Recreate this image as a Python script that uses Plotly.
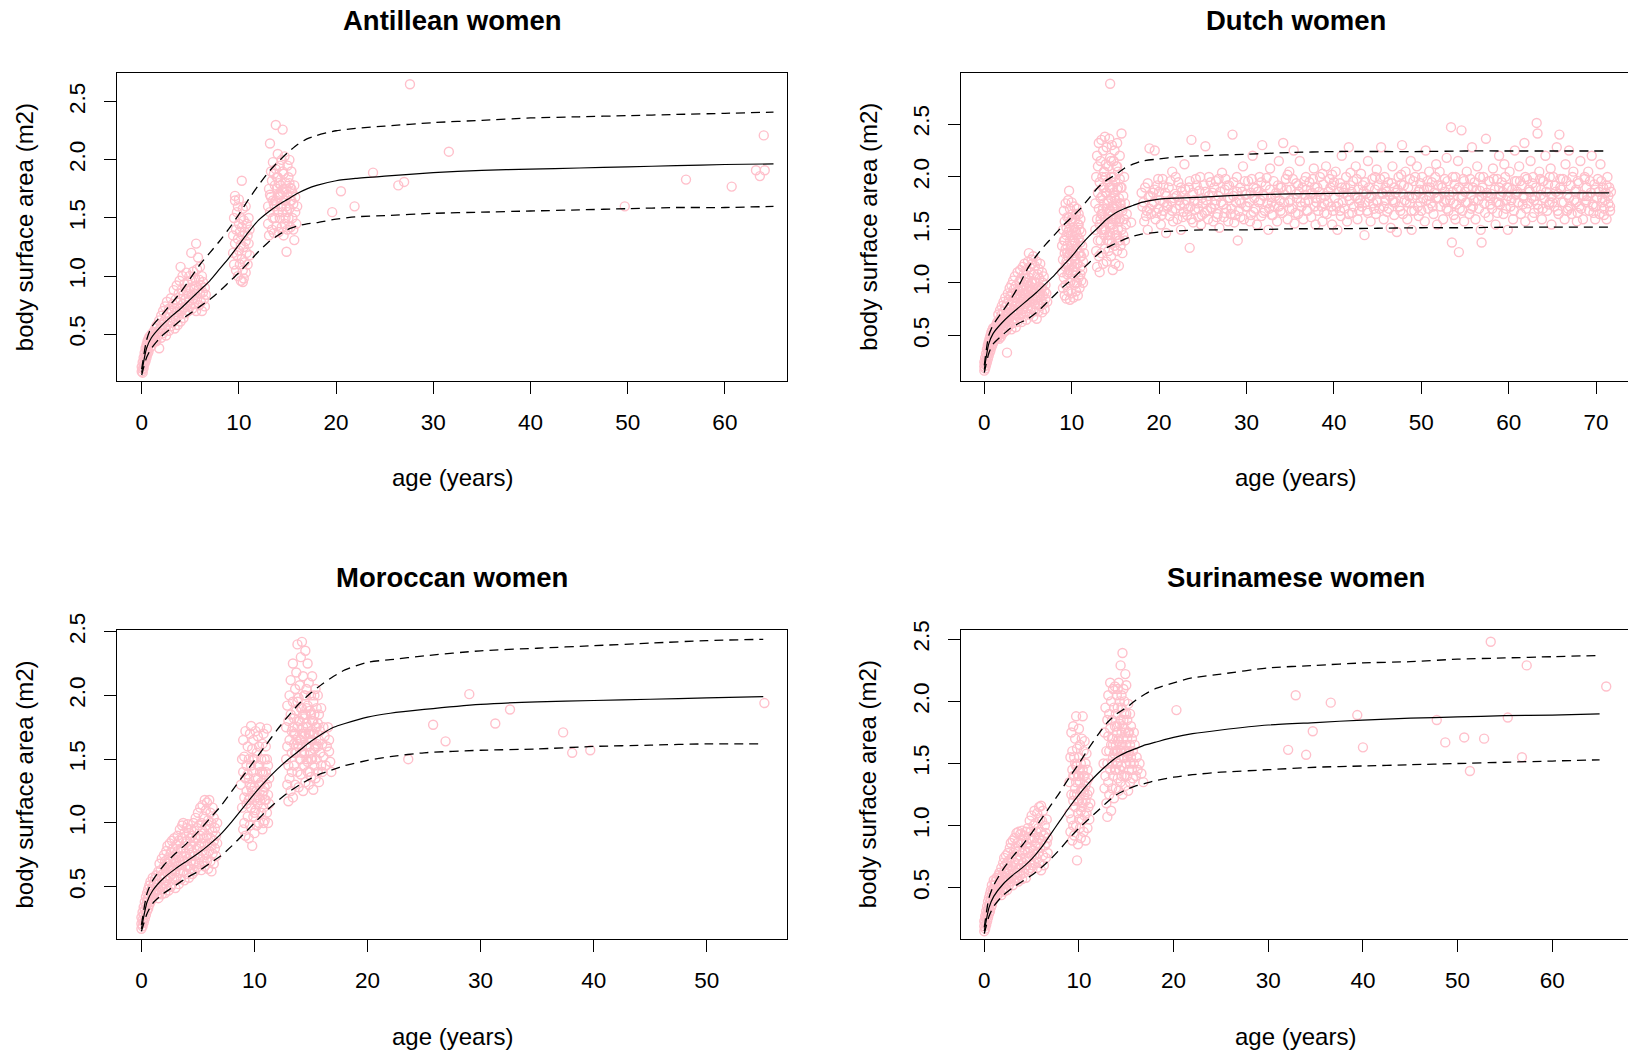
import plotly.graph_objects as go

W, H = 1628, 1051

# ---------------- reference curves (age in years, body surface area in m2) ----------------
ages_A = [0, 0.5, 1, 2, 3, 4, 5, 6, 7, 8, 9, 10, 11, 12, 13, 14, 15, 16, 17, 18, 20, 22, 25, 30, 35, 40, 45, 50, 55, 60, 65]
med_A = [0.17, 0.38, 0.47, 0.57, 0.65, 0.72, 0.80, 0.88, 0.96, 1.06, 1.16, 1.27, 1.38, 1.48, 1.55, 1.61, 1.66, 1.71, 1.75, 1.78, 1.82, 1.84, 1.86, 1.89, 1.91, 1.92, 1.93, 1.94, 1.95, 1.96, 1.965]
upp_A = [0.20, 0.45, 0.56, 0.66, 0.76, 0.86, 0.98, 1.10, 1.20, 1.30, 1.41, 1.53, 1.66, 1.78, 1.89, 1.98, 2.06, 2.13, 2.18, 2.21, 2.25, 2.27, 2.29, 2.32, 2.34, 2.36, 2.37, 2.38, 2.39, 2.40, 2.41]
low_A = [0.15, 0.30, 0.38, 0.48, 0.55, 0.62, 0.68, 0.74, 0.80, 0.87, 0.95, 1.03, 1.12, 1.21, 1.29, 1.35, 1.40, 1.43, 1.45, 1.46, 1.49, 1.51, 1.52, 1.54, 1.55, 1.56, 1.57, 1.58, 1.59, 1.59, 1.60]

ages_D = [0, 0.5, 1, 2, 3, 4, 5, 6, 7, 8, 9, 10, 11, 12, 13, 14, 15, 16, 17, 18, 20, 22, 25, 30, 35, 40, 45, 50, 55, 60, 65, 71.5]
med_D = [0.18, 0.42, 0.52, 0.62, 0.70, 0.77, 0.84, 0.91, 0.99, 1.07, 1.16, 1.25, 1.35, 1.44, 1.52, 1.60, 1.66, 1.70, 1.73, 1.76, 1.79, 1.80, 1.81, 1.83, 1.84, 1.845, 1.85, 1.85, 1.85, 1.85, 1.85, 1.85]
upp_D = [0.22, 0.50, 0.60, 0.72, 0.84, 0.98, 1.14, 1.26, 1.36, 1.45, 1.54, 1.62, 1.70, 1.80, 1.90, 1.97, 2.02, 2.08, 2.12, 2.15, 2.17, 2.19, 2.20, 2.215, 2.23, 2.24, 2.24, 2.24, 2.245, 2.245, 2.245, 2.245]
low_D = [0.15, 0.33, 0.42, 0.50, 0.57, 0.62, 0.66, 0.72, 0.80, 0.88, 0.96, 1.03, 1.11, 1.19, 1.27, 1.33, 1.37, 1.41, 1.44, 1.46, 1.48, 1.49, 1.50, 1.50, 1.51, 1.51, 1.515, 1.52, 1.52, 1.525, 1.525, 1.525]

ages_M = [0, 0.5, 1, 2, 3, 4, 5, 6, 7, 8, 9, 10, 11, 12, 13, 14, 15, 16, 17, 18, 20, 22, 25, 30, 35, 40, 45, 50, 55]
med_M = [0.17, 0.38, 0.47, 0.57, 0.64, 0.70, 0.76, 0.83, 0.91, 1.01, 1.12, 1.23, 1.33, 1.42, 1.50, 1.57, 1.64, 1.70, 1.75, 1.78, 1.83, 1.86, 1.89, 1.93, 1.95, 1.96, 1.97, 1.98, 1.99]
upp_M = [0.20, 0.45, 0.55, 0.67, 0.76, 0.84, 0.93, 1.03, 1.13, 1.25, 1.37, 1.49, 1.61, 1.73, 1.84, 1.94, 2.02, 2.09, 2.15, 2.20, 2.26, 2.28, 2.31, 2.35, 2.37, 2.39, 2.41, 2.43, 2.44]
low_M = [0.15, 0.29, 0.37, 0.45, 0.51, 0.57, 0.62, 0.68, 0.74, 0.82, 0.91, 1.00, 1.09, 1.17, 1.24, 1.30, 1.35, 1.39, 1.42, 1.45, 1.49, 1.52, 1.55, 1.57, 1.58, 1.60, 1.61, 1.62, 1.62]

ages_S = [0, 0.5, 1, 2, 3, 4, 5, 6, 7, 8, 9, 10, 11, 12, 13, 14, 15, 16, 17, 18, 20, 22, 25, 30, 35, 40, 45, 50, 55, 60, 65]
med_S = [0.15, 0.34, 0.43, 0.53, 0.60, 0.66, 0.73, 0.82, 0.93, 1.04, 1.15, 1.25, 1.34, 1.42, 1.49, 1.55, 1.59, 1.62, 1.65, 1.67, 1.71, 1.74, 1.77, 1.81, 1.83, 1.85, 1.865, 1.875, 1.885, 1.89, 1.90]
upp_S = [0.18, 0.42, 0.52, 0.65, 0.75, 0.84, 0.94, 1.05, 1.16, 1.27, 1.39, 1.50, 1.62, 1.73, 1.83, 1.90, 1.95, 2.01, 2.06, 2.10, 2.15, 2.19, 2.22, 2.27, 2.29, 2.31, 2.32, 2.34, 2.35, 2.36, 2.37]
low_S = [0.13, 0.27, 0.35, 0.44, 0.50, 0.55, 0.60, 0.66, 0.73, 0.81, 0.90, 0.98, 1.05, 1.12, 1.19, 1.25, 1.29, 1.32, 1.34, 1.36, 1.39, 1.41, 1.43, 1.45, 1.47, 1.48, 1.49, 1.50, 1.51, 1.52, 1.53]

# ---------------- observations: flat pairs (age x10, BSA x100) ----------------
ant_infant = [0,18, 0,22, 1,20, 1,26, 1,17, 2,24, 2,30, 2,21, 3,28, 3,34, 3,25, 4,31, 4,38, 4,27, 5,35, 5,41, 5,30, 6,37, 6,44, 6,33, 7,40, 7,46, 7,35, 8,42, 8,48, 9,39, 9,45, 10,44, 10,50, 10,40, 11,47, 12,43, 12,52, 13,48, 14,45, 14,55, 15,50, 15,57, 15,44]
ant_child = [16,48, 16,58, 17,52, 18,62, 18,38, 19,55, 20,47, 20,66, 21,58, 22,51, 22,70, 23,61, 24,55, 24,74, 25,49, 25,65, 26,58, 26,78, 27,68, 28,53, 28,72, 29,62, 30,57, 30,81, 31,70, 32,60, 32,76, 33,66, 33,88, 34,55, 34,72, 35,80, 35,63, 36,69, 36,92, 37,58, 37,77, 38,85, 38,66, 39,72, 39,96, 40,61, 40,80, 40,108, 41,70, 41,88, 42,76, 42,100, 43,64, 43,84, 44,73, 44,93, 45,80, 45,68, 46,88, 46,103, 47,75, 47,95, 48,70, 48,85, 49,79, 49,100, 50,90, 50,74, 51,120, 51,84, 52,96, 52,72, 53,81, 53,104, 54,89, 54,76, 55,98, 55,85, 56,128, 56,70, 56,92, 57,80, 57,106, 58,88, 58,116, 59,75, 59,97, 60,85, 60,108, 61,78, 61,92, 62,100, 62,70, 63,86, 63,95, 64,80, 65,90, 65,74, 66,84]
ant_ten = [94,120, 94,135, 95,110, 95,150, 96,128, 96,169, 97,105, 97,140, 98,118, 98,155, 99,132, 99,100, 100,145, 100,122, 100,166, 101,110, 101,138, 102,150, 102,96, 102,127, 103,182, 103,115, 103,142, 104,135, 104,105, 104,158, 105,125, 105,98, 105,148, 106,112, 106,138, 107,130, 107,160, 107,103, 108,120, 108,145, 109,135, 109,110, 110,128, 110,150, 111,118, 111,140, 96,165, 99,160, 104,95]
ant_teen = [130,160, 130,145, 131,175, 131,135, 132,214, 132,155, 133,190, 133,168, 134,140, 134,182, 135,150, 135,198, 136,162, 136,137, 137,178, 137,150, 138,230, 138,192, 138,165, 139,143, 139,175, 140,185, 140,155, 140,205, 141,138, 141,168, 142,195, 142,150, 143,178, 143,160, 144,200, 144,142, 145,226, 145,172, 145,155, 146,188, 146,135, 147,165, 147,203, 148,150, 148,180, 149,121, 149,160, 150,195, 150,140, 150,170, 151,185, 151,150, 152,158, 152,200, 153,142, 153,176, 154,165, 154,190, 155,150, 155,172, 156,140, 156,162, 157,178, 157,131, 158,155, 158,168, 159,145, 160,160, 153,165, 136,188, 142,170, 147,145, 132,170,
            135,165, 137,160, 139,185, 141,180, 143,170, 144,160, 146,175, 148,165, 150,155, 152,180, 154,175, 140,170, 145,190, 149,175]
ant_adult = [196,155, 205,173, 219,160, 238,189, 264,178, 270,181, 276,265, 316,207, 497,160, 560,183, 607,177, 632,191, 636,186, 641,191, 640,221]

dut_infant = [0,17, 0,21, 0,25, 1,19, 1,24, 1,29, 2,22, 2,27, 2,33, 3,25, 3,31, 3,37, 4,28, 4,35, 4,41, 5,31, 5,38, 5,44, 6,34, 6,41, 6,47, 7,36, 7,43, 7,50, 8,39, 8,46, 8,53, 9,41, 9,48, 9,55, 10,43, 10,50, 10,57, 11,45, 11,53, 12,47, 12,58, 13,49, 13,56, 14,51, 14,61, 15,48, 15,55, 15,63]
dut_child = [16,50, 16,62, 16,70, 17,47, 17,57, 18,66, 18,53, 18,74, 19,60, 19,49, 20,70, 20,56, 20,78, 21,63, 21,52, 22,73, 22,59, 22,82, 23,66, 23,54, 24,77, 24,62, 24,86, 25,70, 25,55, 26,34, 26,80, 26,64, 27,90, 27,58, 27,72, 28,84, 28,66, 29,75, 29,95, 29,60, 30,88, 30,68, 31,79, 31,56, 31,98, 32,72, 32,90, 33,62, 33,83, 33,102, 34,75, 34,94, 35,66, 35,86, 35,106, 36,78, 36,58, 36,97, 37,70, 37,89, 38,110, 38,81, 38,63, 39,93, 39,74, 40,101, 40,85, 40,67, 41,112, 41,78, 41,95, 42,88, 42,70, 42,104, 43,82, 43,63, 43,96, 44,115, 44,75, 44,90, 45,108, 45,84, 45,68, 46,98, 46,78, 46,118, 47,88, 47,72, 47,104, 48,94, 48,65, 48,112, 49,82, 49,100, 50,120, 50,76, 50,92, 51,128, 51,86, 51,105, 52,70, 52,97, 52,115, 53,82, 53,110, 54,92, 54,122, 54,75, 55,101, 55,86, 55,118, 56,68, 56,95, 56,125, 57,80, 57,108, 58,90, 58,116, 58,73, 59,100, 59,84, 60,120, 60,94, 60,66, 61,108, 61,80, 62,96, 62,113, 62,73, 63,88, 63,104, 64,78, 64,118, 65,95, 65,84, 66,110, 66,72, 67,100, 67,88, 68,80, 68,106, 69,92, 69,75, 70,98, 70,85, 71,90, 72,82,
             30,75, 32,82, 34,70, 36,86, 38,74, 40,92, 42,80, 44,85, 46,90, 48,80, 50,100, 52,88, 54,100, 56,85, 58,100, 60,86, 62,92, 64,90, 66,95, 28,70, 26,70, 24,68, 22,64, 20,62]
dut_ten = [89,110, 89,135, 90,95, 90,150, 90,122, 91,168, 91,105, 91,140, 92,88, 92,128, 92,158, 93,115, 93,175, 93,98, 94,145, 94,120, 94,85, 95,162, 95,108, 95,135, 96,178, 96,92, 96,125, 97,187, 97,150, 97,112, 98,84, 98,140, 98,170, 99,102, 99,130, 99,158, 100,118, 100,176, 100,90, 101,145, 101,108, 101,165, 102,128, 102,86, 102,152, 103,115, 103,172, 103,98, 104,138, 104,160, 104,122, 105,92, 105,148, 105,110, 106,170, 106,132, 106,100, 107,155, 107,118, 107,88, 108,142, 108,165, 108,105, 109,128, 109,150, 109,95, 110,115, 110,138, 110,160, 111,102, 111,125, 111,148, 112,112, 112,135, 113,120, 113,100, 114,128, 97,162, 99,145, 101,125, 103,140, 105,165, 95,118, 93,132,
           92,140, 94,152, 96,110, 98,128, 100,135, 100,160, 102,112, 102,140, 104,100, 104,150, 106,118, 106,145, 108,128, 108,155, 110,108, 110,125, 96,148, 98,100, 95,128, 103,125]
dut_teen = [127,150, 127,175, 128,130, 128,200, 129,160, 129,220, 129,115, 130,185, 130,140, 130,210, 131,125, 131,170, 131,232, 132,155, 132,195, 132,110, 133,180, 133,140, 133,215, 134,165, 134,235, 134,128, 135,200, 135,150, 135,182, 136,118, 136,225, 136,170, 137,145, 137,205, 137,190, 138,160, 138,238, 138,132, 139,185, 139,212, 139,150, 140,170, 140,120, 140,228, 141,195, 141,140, 141,160, 142,210, 142,178, 142,130, 143,236, 143,155, 143,190, 144,288, 144,168, 144,145, 144,218, 145,200, 145,125, 145,180, 146,160, 146,230, 146,138, 147,112, 147,190, 147,172, 148,150, 148,215, 148,200, 149,135, 149,180, 149,225, 150,160, 150,195, 150,118, 151,145, 151,210, 151,175, 152,130, 152,188, 152,232, 153,165, 153,150, 153,205, 154,116, 154,180, 154,140, 155,198, 155,160, 155,220, 156,135, 156,175, 157,241, 157,150, 157,190, 158,168, 158,128, 159,182, 159,145, 160,160, 160,200, 161,140, 161,175, 162,155, 163,165, 168,157, 137,175, 142,165, 147,155, 152,172, 133,160,
            135,165, 136,190, 138,150, 139,200, 140,185, 141,175, 142,145, 143,168, 144,190, 145,155, 146,200, 147,165, 148,185, 149,170, 150,178, 151,160, 152,145, 153,190, 154,158, 155,175, 156,190, 157,170, 134,150, 137,205, 143,140, 145,215, 148,160, 150,145, 152,210, 155,140]
dut_adult = [181,172, 183,158, 184,190, 186,168, 188,181, 189,227, 187,150,
    191,165, 193,185, 194,176, 195,225, 196,160, 198,192, 199,170,
    201,178, 202,155, 204,198, 205,168, 207,185, 208,147, 209,173,
    211,190, 212,163, 214,177, 215,205, 216,158, 218,184, 219,170,
    221,160, 222,195, 224,173, 225,150, 226,186, 228,167, 229,212,
    231,178, 232,164, 234,190, 235,133, 236,172, 237,235, 238,183, 239,157,
    241,169, 242,198, 244,175, 245,162, 246,187, 248,155, 249,180,
    251,192, 252,166, 253,229, 254,178, 256,160, 257,200, 259,171,
    261,185, 262,158, 264,174, 265,196, 267,165, 268,182, 269,152,
    271,176, 272,204, 274,162, 275,188, 277,170, 278,192, 279,158,
    281,180, 282,165, 284,240, 285,195, 286,157, 288,176, 289,186,
    290,140, 291,168, 293,190, 294,175, 296,210, 297,160, 299,183,
    301,172, 302,196, 304,158, 305,185, 307,220, 308,167, 309,180,
    311,189, 312,155, 314,176, 315,200, 317,163, 318,230, 319,183,
    321,168, 322,192, 324,175, 325,150, 327,208, 328,181, 329,164,
    331,196, 332,172, 334,185, 335,158, 337,215, 338,178, 339,190,
    341,166, 342,232, 344,183, 345,198, 347,160, 348,176, 349,205,
    351,188, 352,170, 354,225, 355,156, 357,194, 358,180, 359,165,
    361,215, 362,176, 364,190, 365,160, 367,183, 368,200, 369,168,
    371,178, 372,195, 374,162, 375,185, 377,208, 378,172, 379,155,
    381,190, 382,168, 384,200, 385,180, 387,158, 388,193, 389,175,
    391,210, 392,165, 394,186, 395,198, 397,172, 398,155, 399,192,
    401,180, 402,205, 404,150, 405,175, 407,194, 408,163, 409,220,
    411,185, 412,170, 414,200, 415,158, 417,228, 418,178, 419,192,
    421,166, 422,196, 424,182, 425,210, 427,160, 428,188, 429,175,
    431,203, 432,172, 434,186, 435,145, 436,195, 438,168, 439,215,
    441,180, 442,158, 444,198, 445,175, 447,188, 448,165, 449,207,
    451,192, 452,170, 454,228, 455,185, 457,160, 458,200, 459,178,
    461,167, 462,195, 464,182, 465,152, 467,210, 468,176, 469,190,
    471,185, 472,148, 474,200, 475,172, 477,193, 478,230, 479,165,
    481,178, 482,205, 484,160, 485,190, 487,175, 488,215, 489,150,
    491,196, 492,168, 494,183, 495,210, 497,163, 498,188, 499,176,
    501,200, 502,180, 504,158, 505,225, 507,190, 508,170, 509,205,
    511,175, 512,195, 514,165, 515,185, 517,212, 518,155, 519,180,
    521,205, 522,172, 524,190, 525,160, 527,198, 528,178, 529,218,
    531,168, 532,183, 534,247, 535,138, 536,200, 537,175, 538,193, 539,160,
    541,188, 542,215, 543,129, 544,170, 546,244, 547,182, 548,198, 549,158,
    551,176, 552,205, 554,190, 555,165, 557,183, 558,228, 559,172,
    561,195, 562,160, 564,210, 565,178, 567,187, 568,150, 569,138,
    571,200, 572,175, 574,236, 575,185, 577,162, 578,196, 579,180,
    581,170, 582,208, 584,188, 585,155, 587,198, 588,176, 589,220,
    591,182, 592,195, 594,165, 595,212, 597,178, 598,190, 599,150,
    601,205, 602,172, 604,188, 605,160, 607,225, 608,183, 609,196,
    611,176, 612,210, 614,165, 615,192, 617,180, 618,232, 619,158,
    621,198, 622,175, 624,186, 625,215, 627,162, 628,200, 629,178,
    631,190, 632,251, 633,241, 634,170, 635,205, 637,183, 638,160, 639,196,
    641,180, 642,220, 644,168, 645,193, 647,176, 648,208, 649,155,
    651,200, 652,172, 654,186, 655,228, 657,165, 658,240, 659,190,
    661,176, 662,198, 664,160, 665,212, 667,183, 668,170, 669,225,
    671,192, 672,165, 674,205, 675,178, 677,188, 678,158, 679,196,
    681,172, 682,215, 684,183, 685,160, 687,198, 688,176, 689,190,
    691,205, 692,168, 694,185, 695,220, 697,172, 698,193, 699,160,
    701,180, 702,198, 704,165, 705,212, 707,176, 708,190, 709,170,
    711,185, 712,160, 713,200, 714,175, 715,190, 716,168]
dut_adult_core = [180,185, 182,176, 185,163, 187,194, 189,170,
    190,182, 192,174, 195,188, 197,166, 199,198, 200,186, 203,164, 205,192, 206,176, 208,182,
    210,172, 213,196, 215,168, 217,180, 219,200, 220,182, 223,178, 225,190, 227,162, 229,174,
    230,188, 233,170, 235,196, 237,160, 239,185, 240,178, 243,192, 245,170, 247,200, 249,164,
    250,175, 253,186, 255,168, 257,182, 259,195, 260,170, 263,190, 265,178, 266,162, 268,198,
    270,186, 273,174, 275,166, 276,198, 279,180, 280,192, 283,170, 285,182, 287,164, 289,200,
    292,178, 293,162, 295,186, 298,196, 299,172, 300,184, 303,176, 305,164, 306,198, 308,190,
    310,170, 313,186, 316,178, 317,195, 319,166, 320,182, 323,199, 326,170, 327,188, 329,176,
    330,164, 333,182, 336,192, 337,172, 339,168, 340,190, 343,176, 346,188, 347,202, 349,170,
    350,178, 353,198, 356,166, 357,184, 359,192, 360,186, 363,172, 366,196, 367,176, 369,188,
    370,168, 373,184, 376,198, 378,190, 379,180, 380,176, 383,186, 386,172, 387,203, 389,166,
    390,182, 393,176, 396,190, 398,202, 399,168, 400,195, 403,172, 406,186, 407,168, 409,190,
    410,176, 413,190, 416,182, 417,165, 419,204, 420,186, 423,172, 426,198, 427,180, 429,168,
    430,178, 433,192, 436,176, 437,184, 439,166, 440,190, 443,182, 446,170, 447,200, 449,178,
    450,176, 453,198, 456,184, 457,172, 459,190, 460,186, 463,170, 466,194, 467,178, 469,164,
    470,176, 473,188, 476,168, 477,202, 479,184, 480,192, 483,176, 486,182, 487,198, 489,168,
    490,180, 493,200, 496,172, 497,186, 499,194, 500,168, 503,188, 506,178, 507,196, 509,182,
    510,190, 513,172, 516,200, 517,180, 519,192, 520,180, 523,192, 526,176, 527,186, 529,170,
    530,196, 533,178, 536,186, 537,164, 539,200, 540,174, 543,190, 546,180, 547,168, 549,196,
    550,186, 553,176, 556,198, 557,170, 559,190, 560,178, 563,188, 566,170, 567,200, 569,182,
    570,190, 573,166, 576,182, 577,196, 579,174, 580,184, 583,198, 586,176, 587,166, 589,190,
    590,174, 593,186, 596,200, 597,170, 599,182, 600,190, 603,178, 606,168, 607,196, 609,184,
    610,186, 613,196, 616,174, 617,182, 619,200, 620,170, 623,188, 626,180, 627,194, 629,166,
    630,182, 633,174, 636,198, 637,188, 639,170, 640,196, 643,186, 646,174, 647,200, 649,182,
    650,176, 653,192, 656,168, 657,184, 659,198, 660,188, 663,176, 666,196, 667,168, 669,180,
    670,172, 673,200, 676,186, 677,176, 679,166, 680,194, 683,170, 686,182, 687,200, 689,178,
    690,182, 693,196, 696,174, 697,166, 699,188, 700,172, 703,186, 706,196, 707,180, 709,164,
    710,178, 712,192, 714,182, 716,172, 717,186]

mor_infant = [0,17, 0,21, 0,26, 1,19, 1,24, 1,30, 2,22, 2,28, 2,34, 3,25, 3,32, 3,38, 4,28, 4,35, 4,42, 5,31, 5,38, 5,45, 6,33, 6,41, 6,48, 7,36, 7,43, 7,51, 8,38, 8,46, 8,54, 9,40, 9,48, 10,42, 10,50, 10,57, 11,44, 11,53, 12,45, 12,56, 13,47, 13,59, 14,44, 14,52, 15,48, 15,62, 15,41]
mor_child = [16,45, 16,58, 16,68, 17,50, 17,63, 18,44, 18,72, 18,56, 19,60, 19,48, 20,75, 20,53, 20,66, 21,45, 21,70, 21,58, 22,78, 22,62, 22,50, 23,68, 23,82, 23,55, 24,47, 24,73, 24,63, 25,84, 25,58, 25,70, 26,50, 26,77, 26,65, 27,86, 27,60, 27,52, 28,72, 28,80, 28,64, 29,56, 29,88, 29,69, 30,75, 30,49, 30,62, 31,83, 31,70, 31,57, 32,90, 32,66, 32,78, 33,52, 33,73, 33,86, 34,61, 34,95, 34,70, 35,80, 35,56, 35,67, 36,88, 36,74, 36,98, 37,62, 37,100, 37,80, 38,70, 38,92, 38,55, 39,84, 39,66, 39,76, 40,96, 40,60, 40,86, 41,72, 41,99, 41,66, 42,80, 42,57, 42,92, 43,75, 43,88, 43,64, 44,95, 44,70, 44,82, 45,60, 45,90, 45,77, 46,100, 46,68, 46,85, 47,74, 47,94, 47,62, 48,88, 48,104, 48,70, 49,80, 49,65, 49,96, 50,108, 50,75, 50,88, 51,68, 51,98, 51,82, 52,112, 52,73, 52,90, 53,63, 53,100, 53,84, 54,114, 54,78, 54,94, 55,70, 55,105, 55,88, 56,118, 56,82, 56,66, 57,98, 57,110, 57,75, 58,90, 58,116, 58,70, 59,84, 59,102, 59,64, 60,95, 60,78, 60,118, 61,88, 61,108, 61,70, 62,100, 62,82, 62,62, 63,93, 63,112, 63,76, 64,86, 64,104, 64,68, 65,96, 65,80, 66,90, 66,74, 67,84, 67,100]
mor_ten = [88,130, 89,150, 89,112, 90,95, 90,140, 90,165, 91,120, 91,100, 91,152, 92,135, 92,172, 92,90, 93,115, 93,145, 93,125, 94,160, 94,105, 94,138, 95,88, 95,150, 95,118, 96,170, 96,130, 96,98, 97,145, 97,112, 97,176, 98,82, 98,125, 98,158, 99,140, 99,105, 99,165, 100,118, 100,150, 100,92, 101,135, 101,172, 101,110, 102,155, 102,125, 102,98, 103,145, 103,168, 103,115, 104,130, 104,160, 104,100, 105,140, 105,118, 105,175, 106,108, 106,150, 106,132, 107,122, 107,162, 107,95, 108,138, 108,112, 108,170, 109,128, 109,150, 109,102, 110,118, 110,140, 110,160, 111,108, 111,130, 111,174, 112,122, 112,145, 112,100, 113,115, 113,135, 96,120, 100,128, 104,120, 108,125,
           95,135, 97,128, 99,150, 101,120, 103,135, 105,130, 107,140, 109,118, 111,150, 100,108, 104,145, 108,100]
mor_teen = [128,150, 128,175, 129,130, 129,192, 129,160, 130,117, 130,180, 130,145, 131,200, 131,165, 131,135, 132,185, 132,125, 132,212, 133,155, 133,172, 133,140, 134,195, 134,120, 134,225, 135,162, 135,182, 135,145, 136,205, 136,130, 136,170, 137,218, 137,155, 137,188, 138,140, 138,240, 138,175, 139,160, 139,198, 139,128, 140,180, 140,150, 140,208, 141,230, 141,165, 141,138, 142,242, 142,190, 142,155, 143,125, 143,175, 143,215, 144,200, 144,145, 144,168, 145,235, 145,185, 145,132, 146,160, 146,205, 146,178, 147,148, 147,225, 147,192, 148,130, 148,170, 148,210, 149,155, 149,188, 149,140, 150,200, 150,165, 150,136, 151,180, 151,150, 151,215, 152,126, 152,170, 152,195, 153,158, 153,185, 153,145, 154,205, 154,135, 154,175, 155,162, 155,190, 155,150, 156,140, 156,178, 156,200, 157,165, 157,132, 157,185, 158,155, 158,172, 159,145, 159,190, 160,162, 160,140, 161,175, 161,152, 162,168, 163,145, 164,160, 165,175, 166,165, 166,156, 167,148, 168,140, 138,162, 144,182, 150,172, 146,150, 142,170,
            135,170, 137,165, 139,180, 140,165, 141,190, 142,160, 143,185, 144,155, 145,170, 146,190, 147,175, 148,160, 149,170, 150,185, 151,165, 152,180, 153,170, 154,160, 155,175, 156,160, 134,175, 136,155, 138,195, 141,150, 145,200, 147,140, 150,150, 153,200]
mor_adult = [236,150, 258,177, 269,164, 290,201, 313,178, 326,189, 373,171, 381,155, 397,157, 551,194]

sur_infant = [0,15, 0,19, 0,23, 1,17, 1,22, 1,27, 2,20, 2,26, 2,31, 3,23, 3,29, 3,35, 4,26, 4,32, 4,39, 5,29, 5,35, 5,42, 6,31, 6,38, 6,45, 7,34, 7,41, 7,48, 8,36, 8,44, 8,52, 9,39, 9,47, 10,41, 10,49, 10,56, 11,43, 11,52, 12,45, 12,55, 13,47, 13,58, 14,44, 14,50, 15,48, 15,60]
sur_child = [16,46, 16,55, 16,62, 17,50, 17,58, 18,44, 18,66, 18,53, 19,60, 19,48, 20,70, 20,55, 21,63, 21,47, 21,74, 22,58, 22,68, 22,50, 23,76, 23,62, 23,54, 24,70, 24,48, 24,65, 25,78, 25,57, 26,72, 26,52, 26,64, 27,82, 27,60, 28,68, 28,55, 28,86, 29,74, 29,58, 30,88, 30,64, 30,52, 31,78, 31,60, 32,90, 32,70, 32,56, 33,82, 33,66, 34,94, 34,58, 34,75, 35,86, 35,62, 36,95, 36,72, 36,55, 37,80, 37,66, 38,93, 38,60, 38,76, 39,85, 39,68, 40,96, 40,57, 40,78, 41,70, 41,88, 42,62, 42,92, 43,80, 43,66, 44,95, 44,74, 44,58, 45,86, 45,68, 46,98, 46,78, 47,64, 47,90, 48,104, 48,72, 48,82, 49,66, 49,95, 50,108, 50,76, 51,88, 51,68, 52,100, 52,80, 53,112, 53,70, 53,90, 54,84, 54,102, 55,74, 55,95, 56,110, 56,66, 56,86, 57,98, 57,78, 58,115, 58,90, 58,70, 59,105, 59,82, 60,116, 60,64, 60,95, 61,88, 61,104, 62,76, 62,112, 63,92, 63,68, 64,100, 64,84, 65,94, 65,74, 66,105, 66,86, 67,90, 67,78]
sur_ten = [90,110, 90,135, 91,155, 91,95, 92,125, 92,175, 92,105, 93,145, 93,88, 93,160, 94,120, 94,180, 94,100, 95,140, 95,155, 95,92, 96,115, 96,170, 96,130, 97,188, 97,100, 97,148, 98,72, 98,125, 98,162, 99,110, 99,140, 99,85, 100,155, 100,120, 100,178, 101,98, 101,135, 101,165, 102,112, 102,150, 102,90, 103,130, 103,170, 103,105, 104,188, 104,145, 104,118, 105,95, 105,160, 105,128, 106,140, 106,108, 106,168, 107,120, 107,150, 107,88, 108,135, 108,110, 108,158, 109,125, 109,145, 109,98, 110,115, 110,138, 111,105, 111,128, 112,118, 94,140, 98,148, 102,128, 106,125, 100,105,
           95,125, 97,135, 99,120, 101,145, 103,115, 105,140, 107,132, 100,140, 96,150, 104,130]
sur_teen = [126,150, 127,175, 127,130, 128,195, 128,140, 129,160, 129,118, 130,185, 130,150, 130,107, 131,172, 131,205, 131,135, 132,160, 132,190, 132,125, 133,215, 133,145, 133,178, 134,112, 134,165, 134,200, 135,150, 135,185, 135,130, 136,210, 136,170, 136,140, 137,195, 137,158, 137,122, 138,180, 138,145, 138,212, 139,165, 139,130, 139,190, 140,150, 140,205, 140,175, 141,138, 141,168, 141,195, 142,155, 142,215, 142,128, 143,182, 143,145, 143,200, 144,160, 144,229, 144,135, 145,175, 145,195, 145,148, 146,239, 146,165, 146,125, 147,185, 147,155, 147,210, 148,140, 148,178, 148,200, 149,160, 149,132, 149,222, 150,190, 150,150, 150,213, 151,170, 151,140, 151,185, 152,158, 152,128, 152,198, 153,175, 153,145, 154,165, 154,190, 154,135, 155,155, 155,180, 156,145, 156,170, 157,160, 157,138, 158,175, 158,150, 159,165, 160,140, 161,155, 162,145, 164,150, 166,142, 168,135, 140,160, 145,160, 150,165, 136,155,
            136,165, 138,160, 140,180, 141,150, 142,170, 143,165, 144,185, 145,140, 146,180, 147,170, 148,155, 149,175, 150,160, 151,155, 152,175, 153,160, 154,150, 139,145, 141,210, 145,205, 148,190, 135,170]
sur_adult = [203,193, 321,161, 329,205, 340,157, 347,176, 366,199, 394,189, 400,163, 478,185, 487,167, 507,171, 513,144, 528,170, 535,248, 553,187, 568,155, 573,229, 657,212]

titles = ["Antillean women", "Dutch women", "Moroccan women", "Surinamese women"]
x_ticks = [[0, 10, 20, 30, 40, 50, 60], [0, 10, 20, 30, 40, 50, 60, 70],
           [0, 10, 20, 30, 40, 50], [0, 10, 20, 30, 40, 50, 60]]
y_ticks = [0.5, 1.0, 1.5, 2.0, 2.5]
y_tick_text = ["0.5", "1.0", "1.5", "2.0", "2.5"]


def unpack(*lists):
    ax, ay = [], []
    for lst in lists:
        for k in range(0, len(lst), 2):
            ax.append(lst[k] / 10.0)
            ay.append(lst[k + 1] / 100.0)
    return ax, ay


panels = [
    dict(pts=unpack(ant_infant, ant_child, ant_ten, ant_teen, ant_adult), age=ages_A, med=med_A, low=low_A, upp=upp_A,
         xr=[-2.54, 66.39], yr=[0.0985, 2.744], xdom=[117 / W, 787 / W], ydom=[1 - 381 / H, 1 - 73.3 / H], right=False),
    dict(pts=unpack(dut_infant, dut_child, dut_ten, dut_teen, dut_adult, dut_adult_core), age=ages_D, med=med_D, low=low_D, upp=upp_D,
         xr=[-2.70, 73.65], yr=[0.072, 2.979], xdom=[960.7 / W, 1.0], ydom=[1 - 381 / H, 1 - 73.3 / H], right=True),
    dict(pts=unpack(mor_infant, mor_child, mor_ten, mor_teen, mor_adult), age=ages_M, med=med_M, low=low_M, upp=upp_M,
         xr=[-2.16, 57.1], yr=[0.090, 2.513], xdom=[117 / W, 787 / W], ydom=[1 - 939 / H, 1 - 630 / H], right=False),
    dict(pts=unpack(sur_infant, sur_child, sur_ten, sur_teen, sur_adult), age=ages_S, med=med_S, low=low_S, upp=upp_S,
         xr=[-2.49, 68.0], yr=[0.087, 2.575], xdom=[960.7 / W, 1.0], ydom=[1 - 939 / H, 1 - 630 / H], right=True),
]

FONT = "Liberation Sans, Arial, Helvetica, sans-serif"
fig = go.Figure()
layout = dict(width=W, height=H, margin=dict(l=0, r=0, t=0, b=0, autoexpand=False), paper_bgcolor="white",
              plot_bgcolor="white", showlegend=False, annotations=[])

for i, p in enumerate(panels):
    sfx = "" if i == 0 else str(i + 1)
    xa, ya = "x" + sfx, "y" + sfx
    px, py = p["pts"]
    fig.add_trace(go.Scatter(x=px, y=py, mode="markers", xaxis=xa, yaxis=ya,
                             marker=dict(symbol="circle-open", size=9, color="#FFC0CB", line=dict(width=1.4))))
    fig.add_trace(go.Scatter(x=p["age"], y=p["med"], mode="lines", xaxis=xa, yaxis=ya,
                             line=dict(color="black", width=1.2, shape="spline", smoothing=0.6)))
    for key in ("low", "upp"):
        fig.add_trace(go.Scatter(x=p["age"], y=p[key], mode="lines", xaxis=xa, yaxis=ya,
                                 line=dict(color="black", width=1.3, dash="9px,6px", shape="spline", smoothing=0.6)))
    layout["xaxis" + sfx] = dict(domain=p["xdom"], range=p["xr"], anchor=ya, tickvals=x_ticks[i], automargin=False,
                                 ticks="outside", ticklen=12, tickwidth=1.2, tickcolor="black",
                                 showline=True, linecolor="black", linewidth=1.3, mirror=True,
                                 showgrid=False, zeroline=False, ticklabelstandoff=9,
                                 tickfont=dict(family=FONT, size=22.5, color="black"))
    layout["yaxis" + sfx] = dict(domain=p["ydom"], range=p["yr"], anchor=xa, tickvals=y_ticks, ticktext=y_tick_text,
                                 automargin=False,
                                 ticks="outside", ticklen=12, tickwidth=1.2, tickcolor="black", tickangle=-90,
                                 showline=True, linecolor="black", linewidth=1.3, mirror=(not p["right"]),
                                 showgrid=False, zeroline=False, ticklabelstandoff=10,
                                 tickfont=dict(family=FONT, size=22.5, color="black"))
    xc = (p["xdom"][0] * W + (787 if not p["right"] else 1631)) / 2
    top = (1 - p["ydom"][1]) * H
    bot = (1 - p["ydom"][0]) * H
    left = p["xdom"][0] * W
    layout["annotations"] += [
        dict(text="<b>%s</b>" % titles[i], x=xc / W, y=1 - (top - 53) / H, xref="paper", yref="paper",
             showarrow=False, xanchor="center", yanchor="middle", font=dict(family=FONT, size=27.5, color="black")),
        dict(text="age (years)", x=xc / W, y=1 - (bot + 97) / H, xref="paper", yref="paper",
             showarrow=False, xanchor="center", yanchor="middle", font=dict(family=FONT, size=24, color="black")),
        dict(text="body surface area (m2)", x=(left - 93) / W, y=1 - ((top + bot) / 2) / H, xref="paper", yref="paper",
             showarrow=False, xanchor="center", yanchor="middle", textangle=-90,
             font=dict(family=FONT, size=24, color="black")),
    ]

fig.update_layout(**layout)
fig.write_html("out.html")
